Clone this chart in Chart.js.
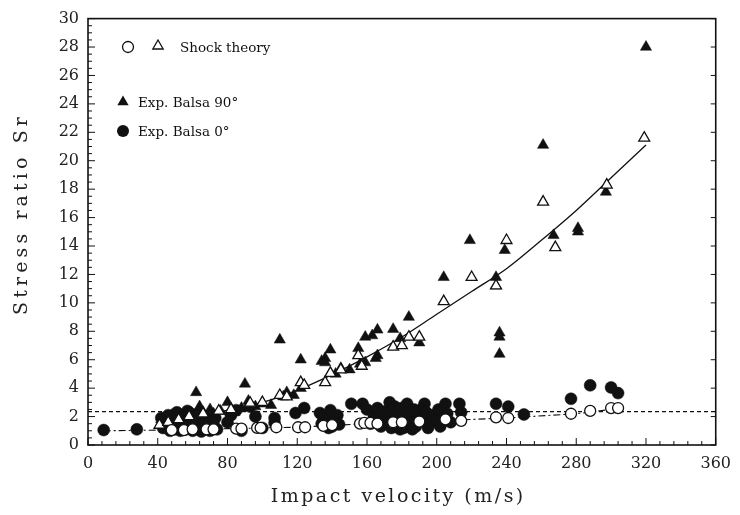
<!DOCTYPE html>
<html>
<head>
<meta charset="utf-8">
<script src="https://cdn.jsdelivr.net/npm/chart.js@4/dist/chart.umd.min.js"></script>
<style>
  html, body { margin: 0; padding: 0; background: #fff; }
  #wrap { width: 740px; height: 515px; }
</style>
</head>
<body>
<div id="wrap"><canvas id="stressChart" width="740" height="515"></canvas></div>
<script>
// [impact velocity (m/s), stress ratio Sr]
var exp90 = [[42,1.8],[45,1.5],[48,2.1],[50,1.7],[53,2.0],[56,1.6],[58,2.3],[62,3.7],[64,2.7],[66,2.3],
  [70,2.5],[72,2.2],[76,2.4],[80,3.0],[84,2.3],[88,2.6],[90,4.3],[92,3.1],[96,2.7],[100,2.9],[105,2.8],
  [110,7.4],[112,3.4],[114,3.7],[118,3.5],[122,6.0],[122,4.0],[124,4.2],[134,5.9],[136,6.1],[136,5.8],
  [139,6.7],[142,5.0],[145,5.4],[150,5.3],[155,6.8],[156,5.7],[159,7.6],[159,5.8],[163,7.7],[165,6.1],
  [166,8.1],[166,6.3],[175,8.15],[179,7.5],[184,9.0],[190,7.2],[204,11.8],[219,14.4],[234,11.8],[234,11.2],
  [236,7.9],[236,7.6],[236,6.4],[239,13.7],[261,21.1],[267,14.75],[281,15.25],[281,15.0],[297,17.8],[320,28.0]];

var shock90 = [[41,1.4],[46,1.6],[52,1.8],[58,2.0],[66,2.2],[75,2.4],[82,2.5],[93,2.95],[100,3.0],[110,3.5],
  [114,3.4],[122,4.4],[124,4.2],[136,4.4],[139,5.05],[145,5.3],[155,6.3],[157,5.55],[175,6.9],[180,7.0],
  [184,7.6],[190,7.6],[204,10.1],[220,11.8],[234,11.2],[240,14.4],[261,17.1],[268,13.9],[297.5,18.3],[319,21.6]];

var exp0 = [[9,1.05],[28,1.1],[42,1.9],[43,1.2],[44,1.4],[46,2.1],[47,1.0],[48,1.6],[50,1.7],[50,1.1],
  [51,2.3],[52,1.35],[53,1.0],[54,1.5],[55,2.0],[56,1.1],[57,1.3],[57,2.4],[58,2.3],[59,1.7],[60,1.0],
  [61,1.4],[61,2.1],[62,2.0],[63,1.1],[64,1.6],[64,2.3],[65,0.95],[66,1.2],[67,1.8],[68,1.9],[69,1.3],
  [70,1.0],[72,1.4],[73,1.9],[74,1.1],[80,1.6],[82,2.1],[85,2.45],[88,1.0],[93,2.7],[96,2.0],[100,1.2],
  [107,1.9],[107,1.55],[119,2.25],[124,2.6],[133,2.25],[134,1.5],[135,1.9],[137,1.9],[138,1.2],[139,2.45],
  [140,1.3],[141,1.75],[143,2.1],[144,1.45],[151,2.9],[157.5,2.9],[160,2.5],[162,1.5],[164,2.0],[166,2.6],
  [168,1.3],[169,1.8],[170,2.0],[171,2.4],[172,1.6],[173,3.0],[174,1.2],[175,2.3],[176,2.7],[177,1.4],
  [178,1.9],[179,1.1],[180,2.6],[181,1.2],[182,1.7],[183,2.9],[184,2.2],[185,1.6],[186,1.1],[187,2.5],
  [188,1.3],[189,1.9],[190,2.0],[191,1.7],[192,2.6],[193,2.9],[194,2.3],[195,1.2],[196,1.5],[197,2.0],
  [198,2.1],[200,1.8],[201,2.5],[202,1.3],[205,2.9],[206,2.2],[208,1.6],[213,2.9],[214,2.3],[234,2.9],
  [241,2.7],[250,2.15],[277,3.25],[288,4.2],[300,4.05],[304,3.65]];

var shock0 = [[48,1.05],[55,1.05],[60,1.1],[68,1.1],[72,1.1],[85,1.15],[88,1.15],[97,1.2],[99,1.2],
  [108,1.25],[120.5,1.25],[124.5,1.25],[135,1.35],[140,1.4],[156,1.5],[158.5,1.55],[162,1.55],[166,1.5],
  [175,1.6],[180,1.6],[190,1.65],[205,1.8],[214,1.7],[234,1.95],[241,1.9],[277,2.2],[288,2.4],[300,2.6],[304,2.6]];

// fitted lines
var curve90 = [[42,1.5],[60,1.95],[80,2.45],[100,3.0],[120,3.85],[140,4.95],[160,6.2],[180,7.6],[200,9.2],
  [220,10.8],[240,12.4],[260,14.4],[280,16.5],[300,18.8],[320,21.1]];
var fit0 = [[9,1.0],[40,1.05],[80,1.15],[120,1.25],[160,1.5],[200,1.7],[240,1.9],[280,2.2],[303,2.55]];
var level0 = [[0,2.35],[360,2.35]];

var xTicks = [0, 40, 80, 120, 160, 200, 240, 280, 320, 360];
var yTicks = [0, 2, 4, 6, 8, 10, 12, 14, 16, 18, 20, 22, 24, 26, 28, 30];
var xTitle = 'Impact velocity (m/s)';
var yTitle = 'Stress ratio Sr';

function pts(arr) {
  return arr.map(function (p) { return { x: p[0], y: p[1] }; });
}

var SERIF = '"DejaVu Serif", "Liberation Serif", serif';

// typewriter-ish spaced title, stretched to a given width
function spacedText(ctx, text, x, y, width) {
  ctx.letterSpacing = '0px';
  var w = ctx.measureText(text).width;
  var sp = Math.max(0, (width - w) / text.length);
  ctx.letterSpacing = sp.toFixed(2) + 'px';
  ctx.fillText(text, x + sp / 2, y);
  ctx.letterSpacing = '0px';
}

// frame, inward ticks, axis titles and the hand-laid legend
var decor = {
  id: 'decor',
  afterDraw: function (chart) {
    var ctx = chart.ctx, a = chart.chartArea;
    var xs = chart.scales.x, ys = chart.scales.y;
    ctx.save();
    ctx.strokeStyle = '#111';
    ctx.lineWidth = 1.6;
    ctx.strokeRect(a.left, a.top, a.right - a.left, a.bottom - a.top);

    ctx.lineWidth = 1;
    ctx.beginPath();
    for (var v = 0; v <= 360; v += 8) {
      var px = xs.getPixelForValue(v);
      var len = (v % 40 === 0) ? 7 : 4;
      ctx.moveTo(px, a.bottom);
      ctx.lineTo(px, a.bottom - len);
    }
    for (var s = 0; s <= 30; s += 0.5) {
      var py = ys.getPixelForValue(s);
      var major = (s % 2 === 0);
      ctx.moveTo(a.left, py);
      ctx.lineTo(a.left + (major ? 7 : 4), py);
      if (major) {
        ctx.moveTo(a.right, py);
        ctx.lineTo(a.right - 5, py);
      }
    }
    ctx.stroke();

    // axis titles
    ctx.fillStyle = '#222';
    ctx.font = '19px ' + SERIF;
    ctx.textAlign = 'center';
    ctx.textBaseline = 'middle';
    spacedText(ctx, xTitle, 397, 497, 255);
    ctx.save();
    ctx.translate(22, 216);
    ctx.rotate(-Math.PI / 2);
    spacedText(ctx, yTitle, 0, 0, 202);
    ctx.restore();

    // legend
    ctx.strokeStyle = '#111';
    ctx.lineWidth = 1.3;
    ctx.beginPath();
    ctx.arc(128, 47, 5.5, 0, Math.PI * 2);
    ctx.fillStyle = '#fff';
    ctx.fill();
    ctx.stroke();
    tri(ctx, 158, 46, 6, false);
    tri(ctx, 123, 102, 6.5, true);
    ctx.beginPath();
    ctx.arc(123, 131, 6, 0, Math.PI * 2);
    ctx.fillStyle = '#111';
    ctx.fill();

    ctx.fillStyle = '#111';
    ctx.font = '13.5px ' + SERIF;
    ctx.textBaseline = 'middle';
    ctx.textAlign = 'left';
    ctx.fillText('Shock theory', 180, 48);
    ctx.fillText('Exp. Balsa 90\u00B0', 138, 103);
    ctx.fillText('Exp. Balsa 0\u00B0', 138, 132);
    ctx.restore();
  }
};

function tri(ctx, x, y, r, filled) {
  ctx.beginPath();
  ctx.moveTo(x, y - r);
  ctx.lineTo(x + r * 0.866, y + r * 0.5);
  ctx.lineTo(x - r * 0.866, y + r * 0.5);
  ctx.closePath();
  if (filled) {
    ctx.fillStyle = '#111';
    ctx.fill();
  } else {
    ctx.fillStyle = '#fff';
    ctx.fill();
    ctx.stroke();
  }
}

var ctx = document.getElementById('stressChart').getContext('2d');
var stressChart = new Chart(ctx, {
  type: 'scatter',
  data: {
    datasets: [
      {
        label: 'Shock theory 0',
        data: pts(shock0),
        pointStyle: 'circle',
        pointRadius: 5.5,
        pointBackgroundColor: '#fff',
        pointBorderColor: '#111',
        pointBorderWidth: 1.3,
        order: 1
      },
      {
        label: 'Shock theory 90',
        data: pts(shock90),
        pointStyle: 'triangle',
        pointRadius: 6.3,
        pointBackgroundColor: '#fff',
        pointBorderColor: '#111',
        pointBorderWidth: 1.3,
        order: 1
      },
      {
        label: 'Exp. Balsa 90\u00B0',
        data: pts(exp90),
        pointStyle: 'triangle',
        pointRadius: 6.5,
        pointBackgroundColor: '#111',
        pointBorderColor: '#111',
        pointBorderWidth: 0.5,
        order: 2
      },
      {
        label: 'Exp. Balsa 0\u00B0',
        data: pts(exp0),
        pointStyle: 'circle',
        pointRadius: 6,
        pointBackgroundColor: '#111',
        pointBorderColor: '#111',
        pointBorderWidth: 0.5,
        order: 2
      },
      {
        label: 'fit 90',
        data: pts(curve90),
        showLine: true,
        pointRadius: 0,
        borderColor: '#111',
        borderWidth: 1.3,
        cubicInterpolationMode: 'monotone',
        order: 3
      },
      {
        label: 'fit 0',
        data: pts(fit0),
        showLine: true,
        pointRadius: 0,
        borderColor: '#111',
        borderWidth: 1.1,
        borderDash: [7, 3, 2, 3],
        order: 3
      },
      {
        label: 'level',
        data: pts(level0),
        showLine: true,
        pointRadius: 0,
        borderColor: '#111',
        borderWidth: 1.1,
        borderDash: [4, 3],
        order: 3
      }
    ]
  },
  options: {
    responsive: false,
    animation: false,
    devicePixelRatio: 1,
    layout: { padding: { top: 18, right: 19, left: 0, bottom: 0 } },
    plugins: {
      legend: { display: false },
      tooltip: { enabled: false }
    },
    scales: {
      x: {
        type: 'linear',
        min: 0,
        max: 360,
        afterFit: function (scale) { scale.height = 70; },
        afterBuildTicks: function (scale) {
          scale.ticks = xTicks.map(function (v) { return { value: v }; });
        },
        grid: { display: false, drawTicks: false },
        border: { display: false },
        ticks: {
          padding: 9,
          color: '#222',
          font: { family: SERIF, size: 16 },
          maxRotation: 0
        },
        title: { display: false, text: xTitle }
      },
      y: {
        type: 'linear',
        min: 0,
        max: 30,
        afterFit: function (scale) { scale.width = 88; },
        afterBuildTicks: function (scale) {
          scale.ticks = yTicks.map(function (v) { return { value: v }; });
        },
        grid: { display: false, drawTicks: false },
        border: { display: false },
        ticks: {
          padding: 9,
          color: '#222',
          font: { family: SERIF, size: 16 }
        },
        title: { display: false, text: yTitle }
      }
    }
  },
  plugins: [decor]
});
</script>
</body>
</html>
